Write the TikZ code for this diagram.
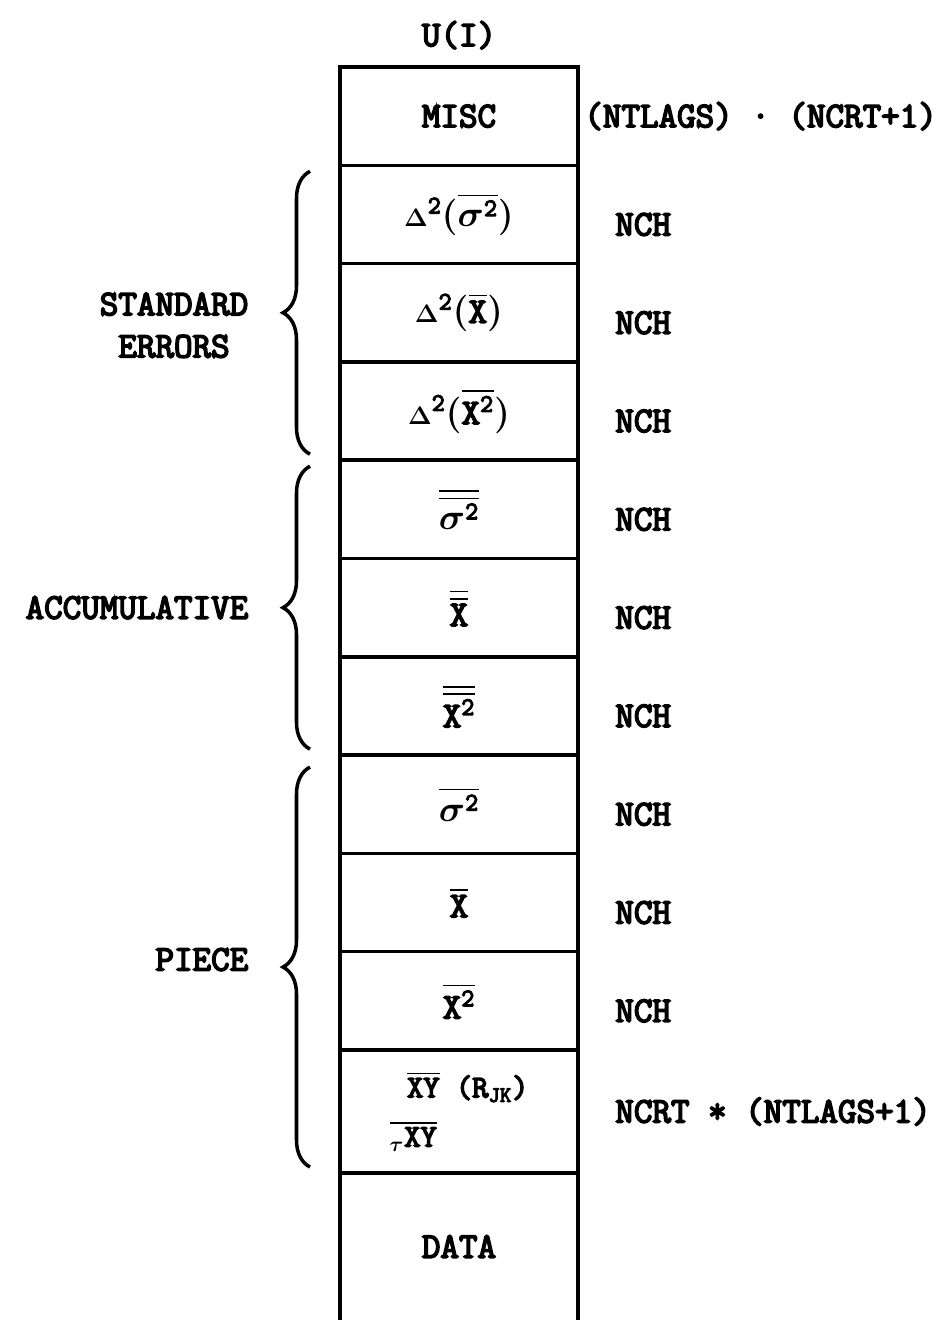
\documentclass[tikz,border=0pt]{standalone}
\usepackage{fontspec}
\setmonofont{Latin Modern Mono}[AutoFakeBold=4.5]
\usepackage{amsmath}
\usetikzlibrary{positioning,decorations.pathreplacing}
\newcommand{\typew}{\fontsize{20.5}{24}\selectfont\ttfamily\bfseries}
\newcommand{\dl}{{\scriptstyle\Delta}}
\tikzset{
  cell/.style      = {draw, line width=2pt, outer sep=0pt, inner sep=2pt,
                      minimum width=47.6mm, minimum height=19.66mm,
                      align=center, font=\typew\boldmath},
  opencell/.style  = {cell, draw=none},
  sidelbl/.style   = {inner sep=0pt, anchor=west, font=\typew},
  headlbl/.style   = {inner sep=0pt, font=\typew},
  grplbl/.style    = {inner sep=0pt, align=center, font=\typew},
  grp/.style       = {decorate, decoration={brace, amplitude=5.4mm},
                      line width=2pt},
  wall/.style      = {line width=2pt}
}
\begin{document}
\begin{tikzpicture}
  \useasboundingbox (0,0) rectangle (189.6mm,-264mm);

  % Column of storage blocks
  \node[cell, anchor=north west] (misc) at (68mm,-13.4mm) {MISC};
  \node[cell, below=0pt of misc] (dsig) {$\dl^{\text{2}}(\overline{\sigma^{\text{2}}})$};
  \node[cell, below=0pt of dsig] (dbar) {$\dl^{\text{2}}(\overline{\text{X}})$};
  \node[cell, below=0pt of dbar] (dsq)  {$\dl^{\text{2}}(\overline{\text{X}^{\text{2}}})$};
  \node[cell, below=0pt of dsq]  (asig) {$\overline{\overline{\sigma^{\text{2}}}}$};
  \node[cell, below=0pt of asig] (abar) {$\overline{\overline{\text{X}}}$};
  \node[cell, below=0pt of abar] (asq)  {$\overline{\overline{\text{X}^{\text{2}}}}$};
  \node[cell, below=0pt of asq]  (psig) {$\overline{\sigma^{\text{2}}}$};
  \node[cell, below=0pt of psig] (pbar) {$\overline{\text{X}}$};
  \node[cell, below=0pt of pbar] (psq)  {$\overline{\text{X}^{\text{2}}}$};
  \node[cell, below=0pt of psq, minimum height=24.6mm, align=left,
        font=\fontsize{18}{28}\selectfont\ttfamily\bfseries\boldmath] (pxy)
        {\hspace*{3.5mm}$\overline{\text{XY}}$~(R$_{\text{JK}}$)\\$\overline{{}_{\tau}\text{XY}}$};
  \node[opencell, below=0pt of pxy, minimum height=29.4mm] (data) {DATA};
  \draw[wall] (data.north west) -- (data.south west);
  \draw[wall] (data.north east) -- (data.south east);

  \node[headlbl, above=3.5mm of misc] (ui) {U(I)};

  % Sizes
  \node[sidelbl, right=1.2mm of misc] (nmisc) {(NTLAGS) · (NCRT+1)};
  \foreach \r in {dsig,dbar,dsq,asig,abar,asq,psig,pbar,psq}
    \node[sidelbl, right=7.4mm of \r, yshift=-2mm] (n\r) {NCH};
  \node[sidelbl, right=7.4mm of pxy] (npxy) {NCRT * (NTLAGS+1)};

  % Groups
  \draw[grp] ([xshift=-6mm, yshift=1.2mm]dsq.south west) --
    node[grplbl, left=12mm, yshift=-2.5mm] (lstd) {STANDARD\\ERRORS}
    ([xshift=-6mm, yshift=-1.2mm]dsig.north west);
  \draw[grp] ([xshift=-6mm, yshift=1.2mm]asq.south west) --
    node[grplbl, left=12mm] (lacc) {ACCUMULATIVE}
    ([xshift=-6mm, yshift=-1.2mm]asig.north west);
  \draw[grp] ([xshift=-6mm, yshift=1.2mm]pxy.south west) --
    node[grplbl, left=12mm, yshift=1.5mm] (lpiece) {PIECE}
    ([xshift=-6mm, yshift=-2.4mm]psig.north west);

\end{tikzpicture}
\end{document}
